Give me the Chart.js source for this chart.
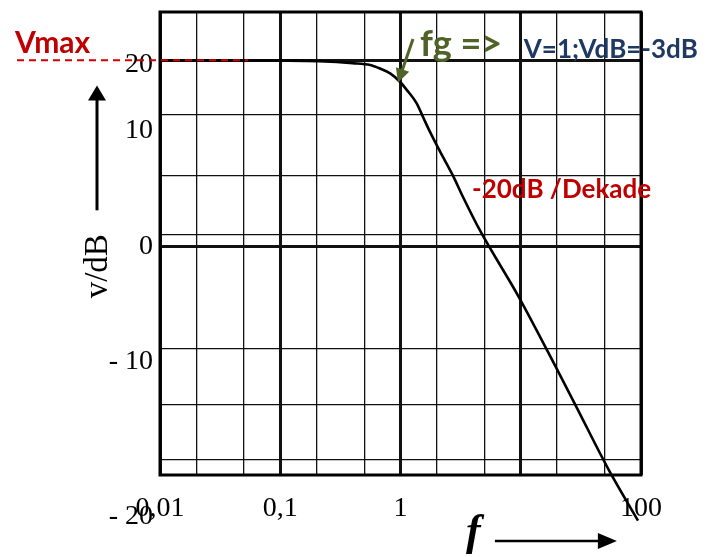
<!DOCTYPE html>
<html><head><meta charset="utf-8">
<script src="https://cdn.jsdelivr.net/npm/chart.js@4"></script>
<style>html,body{margin:0;padding:0;background:#fff;}#wrap{width:715px;height:557px;}</style>
</head><body><div id="wrap"><canvas id="c" width="715" height="557"></canvas></div>
<script>
// ---- data ----
const freq = [0.01, 0.056, 0.21, 0.40, 0.56, 0.68, 0.82, 0.99, 1.13, 1.36, 1.54, 1.76, 2.13, 2.73, 3.31, 4.58, 9.49, 19.6, 28.3, 54.2, 94.4];
const gain = [20.0, 20.0, 19.9, 19.7, 19.5, 19.1, 18.6, 17.7, 16.8, 15.4, 13.9, 12.3, 10.2, 7.6, 5.3, 1.7, -5.3, -13.0, -17.0, -24.1, -29.5];

const xGridValues = [0.01, 0.02, 0.05, 0.1, 0.2, 0.5, 1, 2, 5, 10, 20, 50, 100];
const xMajorValues = [0.01, 0.1, 1, 10, 100];
const xTickValues = [0.01, 0.1, 1, 100];
const xTickLabels = ['0,01', '0,1', '1', '100'];

const yGridValues = [20, 14.2, 7.6, 1.2, 0, -11, -17, -22.9];
const yMajorValues = [20, 0];
const yTickValues = [19.5, 12.4, 0, -12.4, -29.1];
const yTickLabels = ['20', '10', '0', '- 10', '- 20'];

const yMin = -24.6, yMax = 25.2;

const texts = { vmax: 'Vmax', fg: 'fg =>', info: 'V=1;VdB=-3dB', slope: '-20dB /Dekade', yTitle: 'v/dB', xTitle: 'f' };

const near = (a, b) => Math.abs(a - b) < 1e-9 * Math.max(1, Math.abs(b));
const inList = (v, list) => list.some(t => near(v, t));

function arrow(ctx, x1, y1, x2, y2, lw, hl, hw, color) {
  const ang = Math.atan2(y2 - y1, x2 - x1), c = Math.cos(ang), s = Math.sin(ang);
  ctx.setLineDash([]);
  ctx.strokeStyle = color; ctx.fillStyle = color; ctx.lineWidth = lw;
  ctx.beginPath(); ctx.moveTo(x1, y1); ctx.lineTo(x2 - hl * c * 0.9, y2 - hl * s * 0.9); ctx.stroke();
  ctx.beginPath(); ctx.moveTo(x2, y2);
  ctx.lineTo(x2 - hl * c + hw * s, y2 - hl * s - hw * c);
  ctx.lineTo(x2 - hl * c - hw * s, y2 - hl * s + hw * c);
  ctx.closePath(); ctx.fill();
}

const decor = {
  id: 'decor',
  afterDraw(chart) {
    const { ctx, chartArea: a, scales: { x: xs, y: ys } } = chart;
    const X = v => xs.getPixelForValue(v), Y = v => ys.getPixelForValue(v);
    ctx.save();
    // frame
    ctx.strokeStyle = '#000'; ctx.lineWidth = 3;
    ctx.strokeRect(a.left, a.top, a.right - a.left, a.bottom - a.top);
    // out-of-range y label
    ctx.font = '28px "Liberation Serif"'; ctx.fillStyle = '#000';
    ctx.textAlign = 'right'; ctx.textBaseline = 'middle';
    ctx.fillText(yTickLabels[4], a.left - 7, Y(yTickValues[4]));
    // Vmax dashed line
    ctx.strokeStyle = '#d00000'; ctx.lineWidth = 2; ctx.setLineDash([7, 5]);
    ctx.beginPath(); ctx.moveTo(a.left - 143, Y(20)); ctx.lineTo(X(0.054), Y(20)); ctx.stroke();
    ctx.setLineDash([]);
    ctx.textAlign = 'left'; ctx.textBaseline = 'alphabetic';
    ctx.font = 'bold 30px Lato'; ctx.fillStyle = '#c00000';
    ctx.fillText(texts.vmax, a.left - 145, Y(20) - 7);
    // y title + arrow
    ctx.save();
    ctx.translate(a.left - 62, Y(-2.15)); ctx.rotate(-Math.PI / 2);
    ctx.font = '33px "Liberation Serif"'; ctx.fillStyle = '#000';
    ctx.textAlign = 'center'; ctx.textBaseline = 'middle';
    ctx.fillText(texts.yTitle, 0, 0);
    ctx.restore();
    arrow(ctx, a.left - 63, Y(3.87), a.left - 63, Y(17.3), 3, 15, 9, '#000');
    // x title + arrow
    ctx.font = 'bold italic 44px "Liberation Serif"'; ctx.fillStyle = '#000';
    ctx.textAlign = 'left'; ctx.textBaseline = 'alphabetic';
    ctx.fillText(texts.xTitle, X(3.5), a.bottom + 70);
    arrow(ctx, X(6.1), a.bottom + 66, X(63), a.bottom + 66, 2.5, 19, 8, '#000');
    // fg annotation
    ctx.font = 'bold 36px Lato'; ctx.fillStyle = '#4f6228';
    ctx.fillText(texts.fg, X(1.45), Y(20.5));
    arrow(ctx, X(1.27), Y(22.3), X(0.953), Y(17.6), 3, 14, 7, '#4f6228');
    ctx.font = 'bold 26px Lato'; ctx.fillStyle = '#1f3864';
    ctx.fillText(texts.info, X(10.6), Y(20.3));
    ctx.font = 'bold 26px Lato'; ctx.fillStyle = '#c00000';
    ctx.fillText(texts.slope, X(3.93), Y(5.2));
    ctx.restore();
  }
};

new Chart(document.getElementById('c'), {
  type: 'line',
  data: {
    datasets: [{
      data: freq.map((f, i) => ({ x: f, y: gain[i] })),
      borderColor: '#000', borderWidth: 2.6, pointRadius: 0,
      cubicInterpolationMode: 'monotone', fill: false, clip: false
    }]
  },
  options: {
    responsive: false, animation: false, devicePixelRatio: 1,
    layout: { padding: { top: 12, right: 74, left: 0, bottom: 0 } },
    plugins: { legend: { display: false }, tooltip: { enabled: false } },
    scales: {
      x: {
        type: 'logarithmic', min: 0.01, max: 100,
        afterBuildTicks(scale) { scale.ticks = xGridValues.map(v => ({ value: v })); },
        afterFit(scale) { scale.height = 82; scale.paddingLeft = 0; scale.paddingRight = 0; },
        grid: {
          drawTicks: false,
          color: '#111',
          lineWidth: ctx => (ctx.tick && inList(ctx.tick.value, xMajorValues)) ? 3 : 1.3
        },
        border: { display: false },
        ticks: {
          autoSkip: false, maxRotation: 0, padding: 17, color: '#000',
          font: { family: 'Liberation Serif', size: 28 },
          callback(value) {
            const i = xTickValues.findIndex(t => near(value, t));
            return i >= 0 ? xTickLabels[i] : '';
          }
        }
      },
      y: {
        type: 'linear', min: yMin, max: yMax,
        afterBuildTicks(scale) {
          const vals = [...yGridValues, ...yTickValues.filter(v => v >= yMin && v <= yMax)];
          const uniq = vals.filter((v, i) => vals.findIndex(t => near(t, v)) === i).sort((p, q) => p - q);
          scale.ticks = uniq.map(v => ({ value: v }));
        },
        afterFit(scale) { scale.width = 160; scale.paddingTop = 0; scale.paddingBottom = 0; },
        grid: {
          drawTicks: false,
          color: ctx => (ctx.tick && inList(ctx.tick.value, yGridValues)) ? '#111' : 'rgba(0,0,0,0)',
          lineWidth: ctx => (ctx.tick && inList(ctx.tick.value, yMajorValues)) ? 3 : 1.3
        },
        border: { display: false },
        ticks: {
          autoSkip: false, padding: 7, color: '#000',
          font: { family: 'Liberation Serif', size: 28 },
          callback(value) {
            const i = yTickValues.findIndex(t => near(value, t));
            return i >= 0 ? yTickLabels[i] : '';
          }
        }
      }
    }
  },
  plugins: [decor]
});
</script></body></html>
